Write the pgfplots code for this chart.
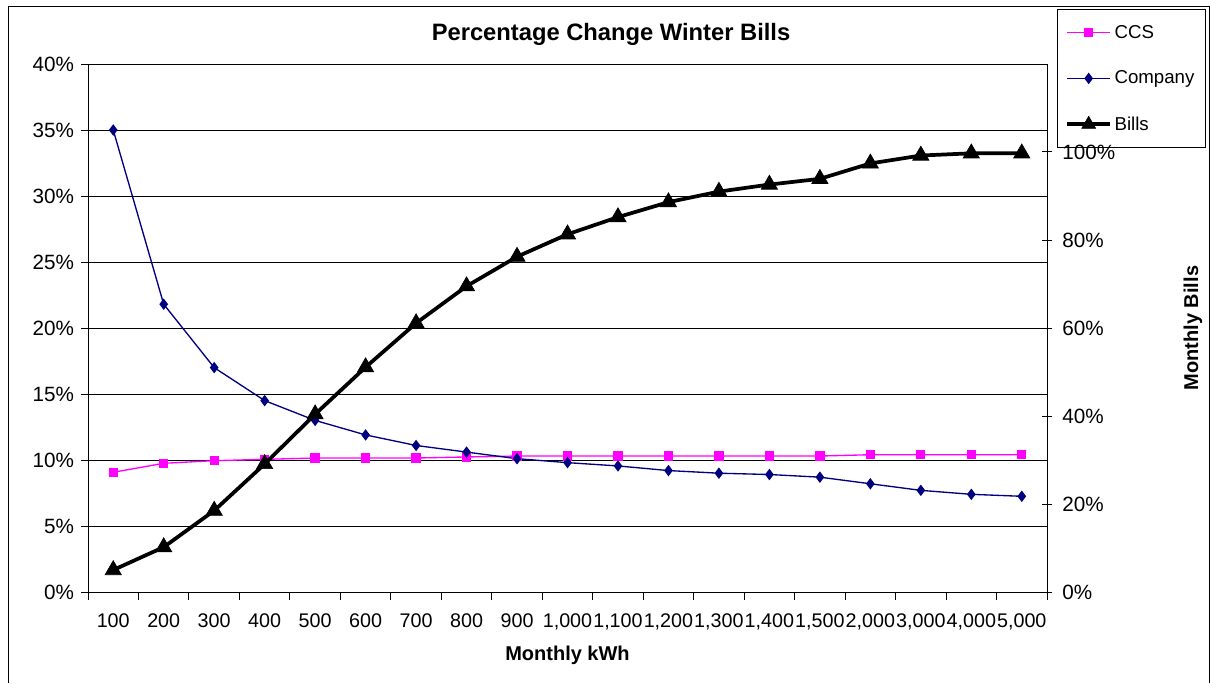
\documentclass[border=0pt]{standalone}
\usepackage{pgfplots}
\pgfplotsset{compat=1.18}
\usepackage{pgfplotstable}
\usepackage{fontspec}
\setmainfont{Liberation Sans}
\definecolor{ccs}{RGB}{255,0,255}
\definecolor{comp}{RGB}{0,0,128}
\pgfplotstableread{
x CCS Company Bills
0 9.07 35.0 5.0
1 9.75 21.8 10.2
2 9.95 17.0 18.5
3 10.05 14.5 29.1
4 10.15 13.0 40.4
5 10.15 11.9 51.1
6 10.15 11.1 61.1
7 10.23 10.6 69.5
8 10.3 10.1 76.2
9 10.3 9.8 81.3
10 10.3 9.55 85.2
11 10.3 9.2 88.6
12 10.3 9.0 91.0
13 10.3 8.9 92.6
14 10.3 8.7 93.9
15 10.4 8.2 97.4
16 10.4 7.7 99.2
17 10.4 7.4 99.7
18 10.4 7.25 99.7
}\datatable
\begin{document}
\begin{tikzpicture}
\useasboundingbox (0,0) rectangle (907.5pt,512.25pt);
\draw[black, line width=0.75pt] (6pt,0pt) -- (6pt,507pt) -- (907.1pt,507pt) -- (907.1pt,0pt);
\pgfplotsset{
  every axis/.append style={
    scale only axis, width=719.25pt, height=396pt,
    at={(66pt,68.25pt)}, anchor=south west,
    xmin=-0.5, xmax=18.5,
    /pgf/number format/assume math mode=true,
    yticklabel style={font=\fontsize{15.5}{18}\selectfont},
    xticklabel style={font=\fontsize{14.8}{17}\selectfont},
    label style={font=\bfseries\fontsize{15}{17}\selectfont},
    axis line style={black, line width=0.75pt},
    every tick/.style={black, line width=0.75pt},
  },
}
\begin{axis}[
  ymin=0, ymax=40, ytick={0,5,...,40},
  yticklabel={\pgfmathprintnumber{\tick}\%},
  ymajorgrids, grid style={black, line width=0.75pt},
  xtick={0,...,18},
  xticklabels={100,200,300,400,500,600,700,800,900,{1,000},{1,100},{1,200},{1,300},{1,400},{1,500},{2,000},{3,000},{4,000},{5,000}},
  major x tick style={draw=none},
  minor xtick={-0.5,0.5,...,18.5},
  minor tick length=6pt,
  major tick length=5pt,
  tick align=outside,
  xtick pos=bottom, ytick pos=left,
  xticklabel style={yshift=-8pt},
  yticklabel style={xshift=-2pt},
  xlabel={Monthly kWh},
  xlabel style={at={(axis description cs:0.5,-0.1193)}, anchor=center},
  title={Percentage Change Winter Bills},
  title style={at={(axis description cs:0.5454,1.0417)}, anchor=center, yshift=0pt, font=\bfseries\fontsize{17.8}{20}\selectfont},
  legend style={at={(1.0104,1.106)}, anchor=north west, draw=black, line width=0.75pt, fill=white,
    font=\fontsize{14}{16}\selectfont, row sep=19pt, inner xsep=6pt, inner ysep=9.5pt, yshift=-1pt},
  legend cell align=left,
  legend image code/.code={\draw[mark repeat=2,mark phase=2] plot coordinates {(0pt,0pt) (16pt,0pt) (32pt,0pt)};},
]
\addplot[ccs, line width=1pt, mark=square*, mark size=3pt, mark options={solid}] table[x=x,y=CCS] {\datatable};
\addlegendentry{CCS}
\addplot[comp, line width=1pt, mark=diamond*, mark size=3.5pt] table[x=x,y=Company] {\datatable};
\addlegendentry{Company}
\addlegendimage{black, line width=2.8pt, mark=triangle*, mark size=6pt, mark options={line width=0.5pt}}
\addlegendentry{Bills}
\end{axis}
\begin{axis}[
  axis x line=none, axis y line*=right,
  ymin=0, ymax=120, ytick={0,20,...,100},
  yticklabel={\pgfmathprintnumber{\tick}\%},
  tick align=center, major tick length=8pt,
  yticklabel style={xshift=4pt},
  ylabel={Monthly Bills},
  ylabel style={at={(axis description cs:1.1522,0.5)}, anchor=center},
]
\addplot[black, line width=2.8pt, mark=triangle*, mark size=7pt, mark options={line width=0.5pt}] table[x=x,y=Bills] {\datatable};
\end{axis}
\end{tikzpicture}
\end{document}
